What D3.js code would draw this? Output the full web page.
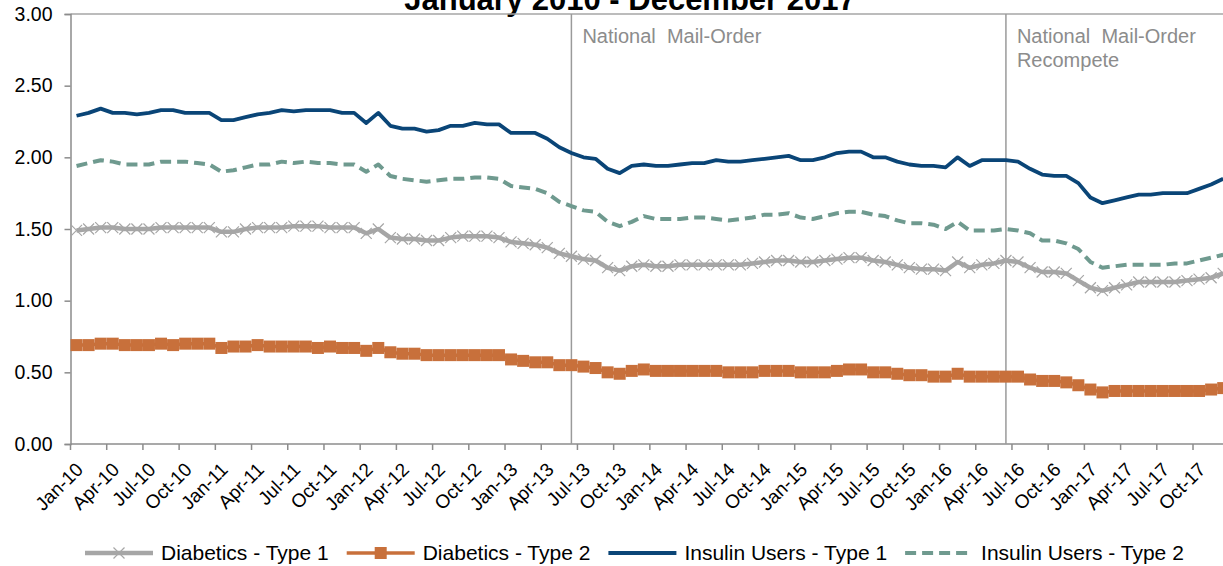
<!DOCTYPE html>
<html>
<head>
<meta charset="utf-8">
<script src="https://cdn.jsdelivr.net/npm/d3@7"></script>
<style>
  html, body { margin: 0; padding: 0; background: #fff; }
  svg { display: block; font-family: "Liberation Sans", Arial, sans-serif; }
</style>
</head>
<body>
<svg id="chart" width="1223" height="566"></svg>
<script>
// Month categories, Jan-10 .. Dec-17
const monthNames = ["Jan","Feb","Mar","Apr","May","Jun","Jul","Aug","Sep","Oct","Nov","Dec"];
const years = ["10","11","12","13","14","15","16","17"];
const months = years.flatMap(y => monthNames.map(m => `${m}-${y}`));

const yTicks = [0, 0.5, 1.0, 1.5, 2.0, 2.5, 3.0];

// Monthly values per series
const diabeticsType1 = [
  1.49,1.50,1.51,1.51,1.50,1.50,1.50,1.51,1.51,1.51,1.51,1.51,
  1.48,1.48,1.50,1.51,1.51,1.51,1.52,1.52,1.52,1.51,1.51,1.51,
  1.47,1.50,1.44,1.43,1.43,1.42,1.42,1.44,1.45,1.45,1.45,1.44,
  1.41,1.40,1.39,1.37,1.33,1.31,1.29,1.28,1.23,1.21,1.24,1.25,
  1.24,1.24,1.25,1.25,1.25,1.25,1.25,1.25,1.26,1.27,1.28,1.28,
  1.27,1.27,1.28,1.29,1.30,1.30,1.28,1.27,1.25,1.23,1.22,1.22,
  1.21,1.27,1.23,1.25,1.26,1.28,1.27,1.23,1.20,1.20,1.19,1.14,
  1.09,1.07,1.09,1.11,1.13,1.13,1.13,1.13,1.14,1.15,1.16,1.19
];
const diabeticsType2 = [
  0.69,0.69,0.70,0.70,0.69,0.69,0.69,0.70,0.69,0.70,0.70,0.70,
  0.67,0.68,0.68,0.69,0.68,0.68,0.68,0.68,0.67,0.68,0.67,0.67,
  0.65,0.67,0.64,0.63,0.63,0.62,0.62,0.62,0.62,0.62,0.62,0.62,
  0.59,0.58,0.57,0.57,0.55,0.55,0.54,0.53,0.50,0.49,0.51,0.52,
  0.51,0.51,0.51,0.51,0.51,0.51,0.50,0.50,0.50,0.51,0.51,0.51,
  0.50,0.50,0.50,0.51,0.52,0.52,0.50,0.50,0.49,0.48,0.48,0.47,
  0.47,0.49,0.47,0.47,0.47,0.47,0.47,0.45,0.44,0.44,0.43,0.41,
  0.38,0.36,0.37,0.37,0.37,0.37,0.37,0.37,0.37,0.37,0.38,0.39
];
const insulinType1 = [
  2.29,2.31,2.34,2.31,2.31,2.30,2.31,2.33,2.33,2.31,2.31,2.31,
  2.26,2.26,2.28,2.30,2.31,2.33,2.32,2.33,2.33,2.33,2.31,2.31,
  2.24,2.31,2.22,2.20,2.20,2.18,2.19,2.22,2.22,2.24,2.23,2.23,
  2.17,2.17,2.17,2.13,2.07,2.03,2.00,1.99,1.92,1.89,1.94,1.95,
  1.94,1.94,1.95,1.96,1.96,1.98,1.97,1.97,1.98,1.99,2.00,2.01,
  1.98,1.98,2.00,2.03,2.04,2.04,2.00,2.00,1.97,1.95,1.94,1.94,
  1.93,2.00,1.94,1.98,1.98,1.98,1.97,1.92,1.88,1.87,1.87,1.82,
  1.72,1.68,1.70,1.72,1.74,1.74,1.75,1.75,1.75,1.78,1.81,1.85
];
const insulinType2 = [
  1.94,1.96,1.98,1.97,1.95,1.95,1.95,1.97,1.97,1.97,1.96,1.95,
  1.90,1.91,1.93,1.95,1.95,1.97,1.96,1.97,1.96,1.96,1.95,1.95,
  1.90,1.95,1.87,1.85,1.84,1.83,1.84,1.85,1.85,1.86,1.86,1.85,
  1.80,1.79,1.78,1.75,1.69,1.66,1.63,1.62,1.55,1.52,1.55,1.59,
  1.57,1.57,1.57,1.58,1.58,1.57,1.56,1.57,1.58,1.60,1.60,1.61,
  1.58,1.57,1.59,1.61,1.62,1.62,1.60,1.59,1.56,1.54,1.54,1.53,
  1.50,1.55,1.49,1.49,1.49,1.50,1.49,1.47,1.42,1.42,1.40,1.36,
  1.27,1.23,1.24,1.25,1.25,1.25,1.25,1.26,1.26,1.28,1.30,1.32
];

const seriesNames = ["Diabetics - Type 1", "Diabetics - Type 2", "Insulin Users - Type 1", "Insulin Users - Type 2"];
const seriesValues = [diabeticsType1, diabeticsType2, insulinType1, insulinType2];

// Program milestones drawn as vertical reference lines
const eventMonths = ["Jun-13", "Jun-16"];
const eventLabels = [["National  Mail-Order"], ["National  Mail-Order", "Recompete"]];

const titleText = "January 2010 - December 2017";

// Series styling
const styles = [
  { color: "#A6A6A6", width: 4.5, dash: null, marker: "x" },
  { color: "#C8703B", width: 3.5, dash: null, marker: "square" },
  { color: "#0A4577", width: 3.8, dash: null, marker: null },
  { color: "#6F9A8F", width: 4, dash: "11,6", marker: null }
];

const svg = d3.select("#chart");
const margin = { left: 70.5, top: 14, bottom: 444 };
const bandStep = 12.07;
const plotRight = margin.left + months.length * bandStep;

const x = d3.scaleBand().domain(months).range([margin.left, plotRight]).paddingInner(0).paddingOuter(0);
const y = d3.scaleLinear().domain([0, 3]).range([margin.bottom, margin.top]);
const cx = m => x(m) + x.bandwidth() / 2;

const axisColor = "#8C8C8C";

// Title (sits partly above the top edge of the page)
svg.append("text")
  .attr("x", 630).attr("y", 10)
  .attr("text-anchor", "middle")
  .attr("font-weight", "bold")
  .attr("font-size", 31)
  .attr("fill", "#000")
  .text(titleText);

// Plot border top
svg.append("line")
  .attr("x1", margin.left).attr("x2", plotRight)
  .attr("y1", y(3)).attr("y2", y(3))
  .attr("stroke", "#A6A6A6").attr("stroke-width", 1.5);

// Y axis
const yAxis = d3.axisLeft(y).tickValues(yTicks).tickFormat(d3.format(".2f")).tickSize(6).tickPadding(12);
const gy = svg.append("g").attr("transform", `translate(${margin.left},0)`).call(yAxis);
gy.select(".domain").attr("stroke", axisColor).attr("stroke-width", 1.5);
gy.selectAll(".tick line").attr("stroke", axisColor).attr("stroke-width", 1.5);
gy.selectAll(".tick text").attr("font-size", 19.5).attr("fill", "#000")
  .attr("font-family", "Liberation Sans, Arial, sans-serif");

// X axis: tick marks between categories every quarter, labels at category centres
const quarterMonths = months.filter((m, i) => i % 3 === 0);
const gx = svg.append("g");
gx.append("line")
  .attr("x1", margin.left).attr("x2", plotRight)
  .attr("y1", margin.bottom).attr("y2", margin.bottom)
  .attr("stroke", axisColor).attr("stroke-width", 1.5);
gx.selectAll("line.tick").data(quarterMonths).join("line")
  .attr("class", "tick")
  .attr("x1", d => x(d)).attr("x2", d => x(d))
  .attr("y1", margin.bottom).attr("y2", margin.bottom + 6)
  .attr("stroke", axisColor).attr("stroke-width", 1.5);
gx.selectAll("text").data(quarterMonths).join("text")
  .attr("transform", d => `translate(${cx(d) + 3},${margin.bottom + 22}) rotate(-45)`)
  .attr("text-anchor", "end")
  .attr("dy", "0.35em")
  .attr("font-size", 19)
  .attr("fill", "#000")
  .text(d => d);

// Milestone lines and labels
eventMonths.forEach((m, k) => {
  const ex = cx(m);
  svg.append("line")
    .attr("x1", ex).attr("x2", ex)
    .attr("y1", y(3)).attr("y2", y(0))
    .attr("stroke", "#9A9A9A").attr("stroke-width", 1.5);
  const t = svg.append("text")
    .attr("x", ex + 11).attr("y", 43)
    .attr("font-size", 20).attr("fill", "#8C8C8C")
    .attr("xml:space", "preserve")
    .style("white-space", "pre");
  eventLabels[k].forEach((line, j) => {
    t.append("tspan").attr("x", ex + 11).attr("dy", j === 0 ? 0 : 24).text(line);
  });
});

// Series lines
const lineGen = d3.line().x((d, i) => cx(months[i])).y(d => y(d));
const plot = svg.append("g");
seriesValues.forEach((vals, s) => {
  const st = styles[s];
  plot.append("path")
    .datum(vals)
    .attr("d", lineGen)
    .attr("fill", "none")
    .attr("stroke", st.color)
    .attr("stroke-width", st.width)
    .attr("stroke-linejoin", "round")
    .attr("stroke-dasharray", st.dash);
  if (st.marker === "x") {
    plot.append("g").selectAll("path").data(vals).join("path")
      .attr("d", (d, i) => {
        const px = cx(months[i]), py = y(d), r = 5.5;
        return `M${px - r},${py - r}L${px + r},${py + r}M${px - r},${py + r}L${px + r},${py - r}`;
      })
      .attr("stroke", "#A6A6A6").attr("stroke-width", 1.2).attr("fill", "none");
  } else if (st.marker === "square") {
    plot.append("g").selectAll("rect").data(vals).join("rect")
      .attr("x", (d, i) => cx(months[i]) - 6)
      .attr("y", d => y(d) - 6)
      .attr("width", 12).attr("height", 12)
      .attr("fill", st.color);
  }
});

// Legend
const legend = svg.append("g").attr("transform", "translate(0,553)");
let lx = 85;
seriesNames.forEach((name, s) => {
  const st = styles[s];
  const g = legend.append("g");
  g.append("line")
    .attr("x1", lx).attr("x2", lx + 68)
    .attr("y1", 0).attr("y2", 0)
    .attr("stroke", st.color).attr("stroke-width", st.width)
    .attr("stroke-dasharray", st.dash);
  const mx = lx + 34;
  if (st.marker === "x") {
    g.append("path")
      .attr("d", `M${mx - 5.5},-5.5L${mx + 5.5},5.5M${mx - 5.5},5.5L${mx + 5.5},-5.5`)
      .attr("stroke", "#A6A6A6").attr("stroke-width", 1.2);
  } else if (st.marker === "square") {
    g.append("rect").attr("x", mx - 6).attr("y", -6).attr("width", 12).attr("height", 12).attr("fill", st.color);
  }
  const t = g.append("text")
    .attr("x", lx + 76).attr("y", 0).attr("dy", "0.35em")
    .attr("font-size", 21).attr("fill", "#000")
    .text(name);
  lx += 76 + t.node().getComputedTextLength() + 18;
});
</script>
</body>
</html>
